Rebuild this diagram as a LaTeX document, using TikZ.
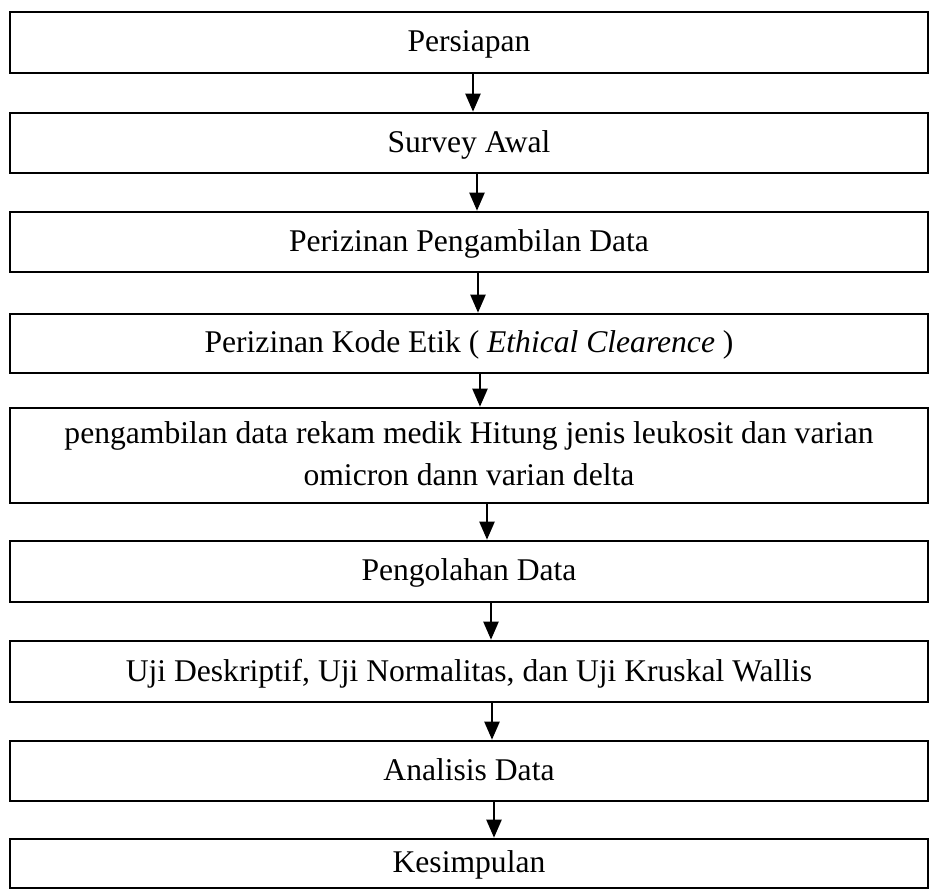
\documentclass[tikz,border=0pt]{standalone}
\usepackage{fontspec}
\setmainfont{Liberation Serif}
\usetikzlibrary{arrows.meta,positioning}

\begin{document}
\begin{tikzpicture}[
  x=0.5pt, y=-0.5pt,
  box/.style={draw, line width=1.3pt, minimum width=459pt, align=center, inner sep=0pt, text depth=1.5pt, font=\fontsize{15.8}{21}\selectfont},
  arr/.style={-{Triangle[width=7.5pt,length=9pt]}, line width=1.1pt}
]
\useasboundingbox (0,0) rectangle (931,893);
\node[box, minimum height=30.5pt] (persiapan) at (469,42.5) {Persiapan};
\node[box, minimum height=30pt] (survey) at (469,143) {Survey Awal};
\node[box, minimum height=30pt] (izindata) at (469,242) {Perizinan Pengambilan Data};
\node[box, minimum height=29.5pt] (etik) at (469,343.5) {Perizinan Kode Etik ( \textit{Ethical Clearence} )};
\node[box, minimum height=47.5pt] (rekam) at (469,455.5) {pengambilan data rekam medik Hitung jenis leukosit dan varian\\omicron dann varian delta};
\node[box, minimum height=30.5pt] (olah) at (469,571.5) {Pengolahan Data};
\node[box, minimum height=30.5pt] (uji) at (469,671.5) {Uji Deskriptif, Uji Normalitas, dan Uji Kruskal Wallis};
\node[box, minimum height=30pt] (analisis) at (469,771) {Analisis Data};
\node[box, minimum height=24.5pt] (simpul) at (469,863.5) {Kesimpulan};

\draw[arr] ([xshift=2pt]persiapan.south) -- ([xshift=2pt]survey.north);
\draw[arr] ([xshift=4pt]survey.south) -- ([xshift=4pt]izindata.north);
\draw[arr] ([xshift=4.5pt]izindata.south) -- ([xshift=4.5pt]etik.north);
\draw[arr] ([xshift=5.5pt]etik.south) -- ([xshift=5.5pt]rekam.north);
\draw[arr] ([xshift=9pt]rekam.south) -- ([xshift=9pt]olah.north);
\draw[arr] ([xshift=11pt]olah.south) -- ([xshift=11pt]uji.north);
\draw[arr] ([xshift=11.5pt]uji.south) -- ([xshift=11.5pt]analisis.north);
\draw[arr] ([xshift=12.5pt]analisis.south) -- ([xshift=12.5pt]simpul.north);
\end{tikzpicture}
\end{document}
